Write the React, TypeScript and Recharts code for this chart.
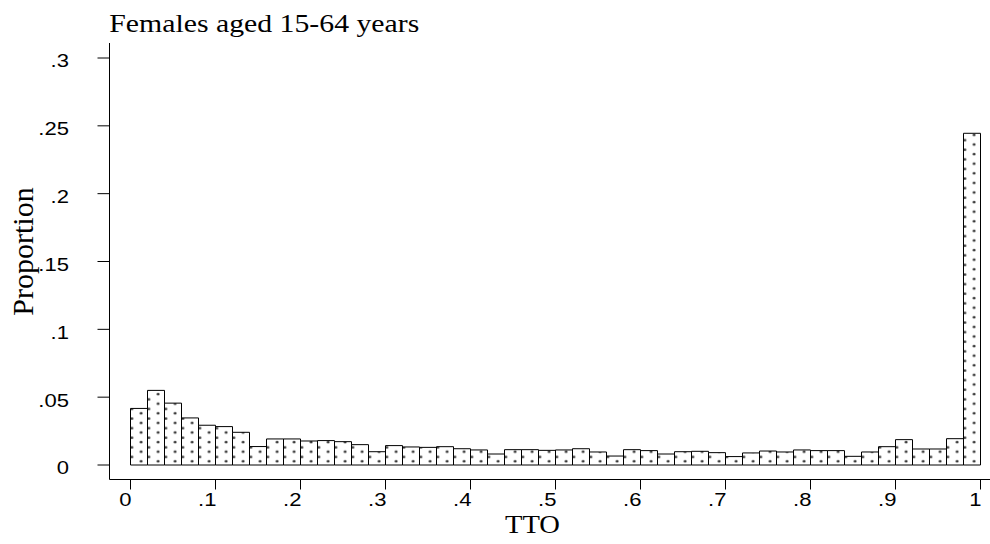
import React from 'react';
import { BarChart, Bar, XAxis, YAxis, Customized } from 'recharts';

const binStarts = [
  0, 0.02, 0.04, 0.06, 0.08, 0.1, 0.12, 0.14, 0.16, 0.18,
  0.2, 0.22, 0.24, 0.26, 0.28, 0.3, 0.32, 0.34, 0.36, 0.38,
  0.4, 0.42, 0.44, 0.46, 0.48, 0.5, 0.52, 0.54, 0.56, 0.58,
  0.6, 0.62, 0.64, 0.66, 0.68, 0.7, 0.72, 0.74, 0.76, 0.78,
  0.8, 0.82, 0.84, 0.86, 0.88, 0.9, 0.92, 0.94, 0.96, 0.98,
];

const proportions = [
  0.0417, 0.055, 0.0456, 0.0347, 0.0293, 0.0283, 0.0241, 0.0136, 0.0192, 0.0192,
  0.0177, 0.018, 0.0172, 0.015, 0.0098, 0.0143, 0.0133, 0.013, 0.0135, 0.012,
  0.0111, 0.0081, 0.0113, 0.0113, 0.0108, 0.0111, 0.012, 0.0096, 0.0066, 0.0113,
  0.0106, 0.0081, 0.0098, 0.0101, 0.0091, 0.0062, 0.0089, 0.0103, 0.0096, 0.0111,
  0.0106, 0.0106, 0.0064, 0.0096, 0.0135, 0.0187, 0.0118, 0.0118, 0.0194, 0.2445,
];

const xTicks = [0, 0.1, 0.2, 0.3, 0.4, 0.5, 0.6, 0.7, 0.8, 0.9, 1];
const xTickLabels = ['0', '.1', '.2', '.3', '.4', '.5', '.6', '.7', '.8', '.9', '1'];
const yTicks = [0, 0.05, 0.1, 0.15, 0.2, 0.25, 0.3];
const yTickLabels = ['0', '.05', '.1', '.15', '.2', '.25', '.3'];

const chartTitle = 'Females aged 15-64 years';
const xTitle = 'TTO';
const yTitle = 'Proportion';

const data = binStarts.map((b, i) => ({ bin: b, p: proportions[i] }));

const SANS = "'Liberation Sans', Arial, sans-serif";
const SERIF = "'Liberation Serif', 'Times New Roman', serif";
const STRETCH = 1.16;
const TICK_FS = 19;

const labelFor = (ticks: number[], labels: string[], v: number) => {
  const i = ticks.findIndex((t) => Math.abs(t - v) < 1e-6);
  return i >= 0 ? labels[i] : String(v);
};

const textLen = (s: string, fs: number) =>
  s.split('').reduce((a, c) => a + (c === '.' ? 0.278 : 0.556), 0) * fs * STRETCH;

const XTick = (props: any) => {
  const { x, y, payload } = props;
  const label = labelFor(xTicks, xTickLabels, payload.value);
  return (
    <text
      x={x + 1}
      y={y + 16.5}
      textAnchor="end"
      fontFamily={SANS}
      fontSize={TICK_FS}
      fill="#000"
      textLength={textLen(label, TICK_FS)}
      lengthAdjust="spacingAndGlyphs"
    >
      {label}
    </text>
  );
};

const YTick = (props: any) => {
  const { x, y, payload } = props;
  const label = labelFor(yTicks, yTickLabels, payload.value);
  return (
    <text
      x={x - 28.5}
      y={y + 9.4}
      textAnchor="end"
      fontFamily={SANS}
      fontSize={TICK_FS}
      fill="#000"
      textLength={textLen(label, TICK_FS)}
      lengthAdjust="spacingAndGlyphs"
    >
      {label}
    </text>
  );
};

const Decor = () => (
  <g>
    <defs>
      <pattern id="dotfill" patternUnits="userSpaceOnUse" x={130.5} y={465} width={17} height={9.6}>
        <rect x={0} y={0} width={17} height={9.6} fill="#ffffff" />
        <circle cx={1.4} cy={1.6} r={1.3} fill="#2a2a2a" />
        <circle cx={10.6} cy={5.9} r={1.3} fill="#2a2a2a" />
      </pattern>
    </defs>
    <text
      x={109.3}
      y={32.3}
      fontFamily={SERIF}
      fontSize={26}
      fill="#000"
      textLength={310}
      lengthAdjust="spacingAndGlyphs"
    >
      {chartTitle}
    </text>
    <text
      x={505}
      y={533.3}
      fontFamily={SERIF}
      fontSize={26}
      fill="#000"
      textLength={55}
      lengthAdjust="spacingAndGlyphs"
    >
      {xTitle}
    </text>
    <text
      x={33.3}
      y={251.5}
      transform="rotate(-90 33.3 251.5)"
      textAnchor="middle"
      fontFamily={SERIF}
      fontSize={30}
      fill="#000"
    >
      {yTitle}
    </text>
  </g>
);

export default function App() {
  return (
    <div style={{ position: 'absolute', left: 0, top: 0, width: 990, height: 544, background: '#fff' }}>
      <BarChart
        width={990}
        height={544}
        data={data}
        margin={{ top: 43, right: 0, bottom: 0, left: 9.5 }}
        barCategoryGap={0}
        barGap={0}
      >
        <Customized component={<Decor />} />
        <XAxis
          xAxisId="cat"
          dataKey="bin"
          type="category"
          hide
          height={0}
          padding={{ left: 21, right: 9.5 }}
        />
        <XAxis
          xAxisId="num"
          dataKey="bin"
          type="number"
          domain={[0, 1]}
          allowDataOverflow
          ticks={xTicks}
          interval={0}
          padding={{ left: 21, right: 9.5 }}
          height={64.5}
          tickSize={10}
          tickMargin={0}
          axisLine={{ stroke: '#000', strokeWidth: 1 }}
          tickLine={{ stroke: '#000', strokeWidth: 1 }}
          tick={<XTick />}
        />
        <YAxis
          type="number"
          domain={[0, 0.3]}
          ticks={yTicks}
          interval={0}
          width={100}
          padding={{ top: 15, bottom: 14.5 }}
          tickSize={12}
          tickMargin={0}
          axisLine={{ stroke: '#000', strokeWidth: 1 }}
          tickLine={{ stroke: '#000', strokeWidth: 1 }}
          tick={<YTick />}
        />
        <Bar
          xAxisId="cat"
          dataKey="p"
          fill="url(#dotfill)"
          stroke="#000"
          strokeWidth={1}
          isAnimationActive={false}
        />
      </BarChart>
    </div>
  );
}
